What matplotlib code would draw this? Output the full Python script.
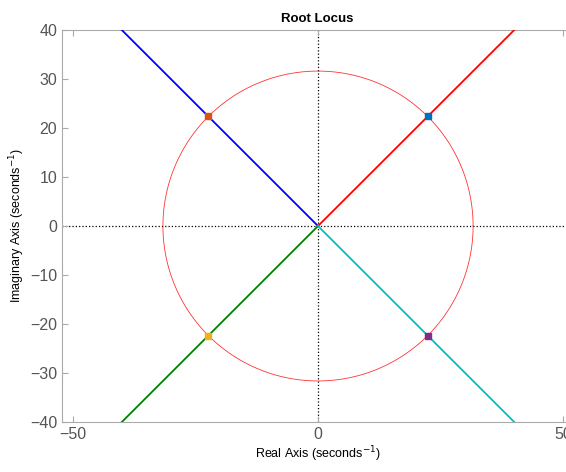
import numpy as np
import matplotlib
matplotlib.use('Agg')
import matplotlib.pyplot as plt

plt.rcParams['font.family'] = ['Liberation Sans', 'DejaVu Sans']

# root locus branches (from origin outward)
branch_x = [[0, 60], [0, -60], [0, -60], [0, 60]]
branch_y = [[0, 60], [0, 60], [0, -60], [0, -60]]
branch_colors = ['#ff0000', '#0000ff', '#008000', '#00bfbf']

# closed-loop poles at the selected gain
pole_x = [22.36, -22.36, -22.36, 22.36]
pole_y = [22.36, 22.36, -22.36, -22.36]
pole_colors = ['#0072bd', '#d95319', '#edb120', '#7e2f8e']

# constant natural frequency circle
wn = 31.62

fig = plt.figure(figsize=(5.66, 4.72), dpi=100)
ax = fig.add_axes([0.1095, 0.1059, 0.903, 0.8305])

ax.axhline(0, color='black', linestyle=':', linewidth=0.9, zorder=1)
ax.axvline(0, color='black', linestyle=':', linewidth=0.9, zorder=1)

theta = np.linspace(0, 2 * np.pi, 400)
ax.plot(wn * np.cos(theta), wn * np.sin(theta), color='#ff0000', linewidth=0.6, alpha=0.8, zorder=2)

for bx, by, c in zip(branch_x, branch_y, branch_colors):
    ax.plot(bx, by, color=c, linewidth=1.3, zorder=3)

for px, py, c in zip(pole_x, pole_y, pole_colors):
    ax.plot(px, py, 's', color=c, markersize=5, zorder=4)

ax.set_xlim(-52.2, 52)
ax.set_ylim(-40, 40)
ax.set_xticks([-50, 0, 50])
ax.set_yticks(np.arange(-40, 41, 10))

for side in ['left', 'top', 'bottom', 'right']:
    ax.spines[side].set_color('#aaaaaa')
    ax.spines[side].set_linewidth(0.8)
ax.tick_params(direction='in', length=4, width=0.8, color='#aaaaaa',
               labelsize=11.5, labelcolor='#555555', top=True, right=True)

ax.set_title('Root Locus', fontsize=9.5, fontweight='bold', pad=6)
ax.set_xlabel('Real Axis (seconds$^{-1}$)', fontsize=9, labelpad=2)
ax.set_ylabel('Imaginary Axis (seconds$^{-1}$)', fontsize=9, labelpad=2)

fig.savefig('out.png', dpi=100)
